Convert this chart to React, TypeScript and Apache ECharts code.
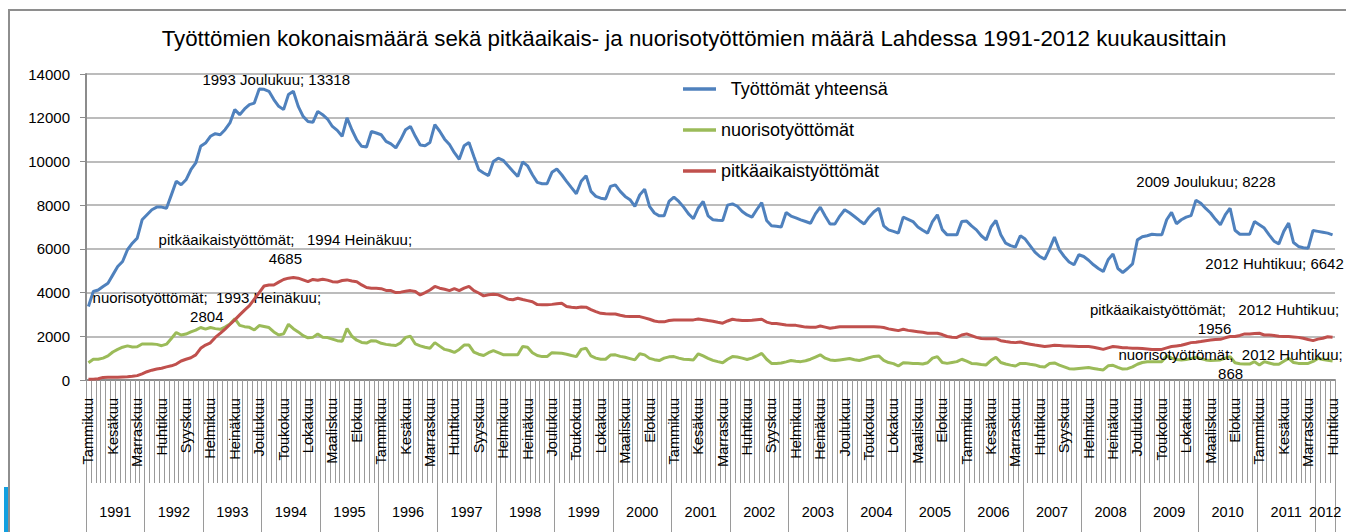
import React, { useEffect, useRef } from "react";
import * as echarts from "echarts";

const TITLE =
  "Työttömien kokonaismäärä sekä pitkäaikais- ja nuorisotyöttömien määrä Lahdessa 1991-2012 kuukausittain";

const MONTHS = [
  "Tammikuu", "Helmikuu", "Maaliskuu", "Huhtikuu", "Toukokuu", "Kesäkuu",
  "Heinäkuu", "Elokuu", "Syyskuu", "Lokakuu", "Marraskuu", "Joulukuu",
];
const YEARS = [
  1991, 1992, 1993, 1994, 1995, 1996, 1997, 1998, 1999, 2000, 2001,
  2002, 2003, 2004, 2005, 2006, 2007, 2008, 2009, 2010, 2011, 2012,
];
const MONTHS_IN_LAST_YEAR = 4;

const SERIES_NAMES = ["Työttömät yhteensä", "nuorisotyöttömät", "pitkäaikaistyöttömät"];

const TOTAL = [
  3360, 4050, 4120, 4280, 4430, 4810, 5190, 5420, 5960, 6260, 6490, 7330,
  7560, 7790, 7910, 7910, 7860, 8470, 9090, 8930, 9160, 9620, 9930, 10690,
  10840, 11150, 11270, 11220, 11450, 11760, 12370, 12140, 12400, 12600, 12670, 13318,
  13300, 13210, 12830, 12520, 12370, 13060, 13210, 12520, 12060, 11830, 11790, 12290,
  12140, 11940, 11600, 11420, 11150, 11990, 11450, 10990, 10690, 10660, 11370, 11300,
  11220, 10920, 10800, 10620, 11000, 11450, 11600, 11150, 10750, 10720, 10870, 11680,
  11380, 11020, 10770, 10400, 10100, 10720, 10870, 10230, 9620, 9470, 9350, 10000,
  10150, 10050, 9800, 9550, 9310, 9980, 9800, 9390, 9040, 8980, 8980, 9500,
  9650, 9390, 9090, 8800, 8520, 9090, 9350, 8630, 8400, 8320, 8280, 8860,
  8930, 8630, 8400, 8250, 7940, 8470, 8730, 7940, 7640, 7510, 7510, 8170,
  8370, 8170, 7910, 7600, 7380, 7870, 8170, 7510, 7330, 7310, 7300, 8000,
  8060, 7950, 7710, 7550, 7450, 7800, 8120, 7300, 7060, 7030, 7000, 7660,
  7500, 7420, 7330, 7250, 7170, 7600, 7910, 7500, 7140, 7140, 7500, 7790,
  7650, 7480, 7300, 7140, 7450, 7700, 7860, 7050, 6870, 6800, 6720, 7450,
  7350, 7250, 7000, 6850, 6720, 7250, 7560, 6880, 6640, 6640, 6640, 7250,
  7270, 7050, 6870, 6600, 6410, 7000, 7300, 6650, 6260, 6150, 6080, 6600,
  6450, 6150, 5850, 5650, 5530, 6000, 6540, 5950, 5650, 5400, 5270, 5730,
  5650, 5480, 5270, 5100, 4960, 5500, 5770, 5100, 4920, 5100, 5310, 6410,
  6550, 6600, 6670, 6650, 6640, 7330, 7670, 7150, 7330, 7450, 7520, 8228,
  8090, 7850, 7640, 7350, 7100, 7550, 7860, 6850, 6670, 6670, 6670, 7250,
  7100, 6950, 6640, 6350, 6230, 6800, 7180, 6290, 6110, 6050, 6030, 6840,
  6800, 6760, 6720, 6642,
];

const YOUTH = [
  790, 950, 950, 1000, 1100, 1280, 1400, 1500, 1560, 1510, 1520, 1650,
  1650, 1650, 1630, 1570, 1640, 1900, 2170, 2060, 2100, 2200, 2280, 2400,
  2330, 2400, 2350, 2320, 2420, 2560, 2804, 2500, 2440, 2410, 2290, 2490,
  2450, 2400, 2200, 2060, 2110, 2550, 2350, 2200, 2030, 1930, 1950, 2110,
  1960, 1940, 1870, 1800, 1770, 2360, 2000, 1820, 1720, 1690, 1800, 1780,
  1680, 1630, 1600, 1580, 1700, 1950, 2000, 1650, 1560, 1500, 1450, 1710,
  1550, 1400, 1350, 1260, 1400, 1600, 1600, 1280, 1180, 1120, 1250, 1340,
  1250, 1160, 1150, 1150, 1150, 1530, 1500, 1250, 1120, 1070, 1070, 1250,
  1240, 1220, 1180, 1120, 1070, 1400, 1450, 1100, 1000, 950, 950, 1140,
  1150, 1080, 1040, 980, 920, 1200, 1150, 990, 930, 890, 1000, 1060,
  1070, 1000, 950, 935, 920, 1200, 1100, 990, 900, 840, 790, 950,
  1070, 1050, 1000, 940, 1000, 1100, 1220, 950, 760, 760, 780, 830,
  890, 860, 840, 880, 950, 1050, 1150, 1000, 920, 890, 920, 950,
  980, 930, 890, 950, 1020, 1080, 1100, 900, 800, 750, 640, 790,
  780, 760, 750, 730, 790, 1000, 1070, 800, 760, 800, 840, 950,
  860, 760, 740, 710, 690, 900, 1040, 800, 730, 680, 640, 760,
  760, 720, 690, 620, 600, 750, 780, 680, 600, 520, 500, 530,
  550, 570, 530, 490, 460, 650, 670, 580, 500, 520, 600, 720,
  800, 830, 840, 840, 840, 1100, 1000, 940, 920, 940, 980, 1040,
  980, 920, 890, 900, 920, 1000, 1070, 790, 740, 730, 730, 840,
  690, 840, 780, 720, 720, 860, 990, 800, 760, 760, 760, 850,
  990, 940, 900, 868,
];

const LONG_TERM = [
  30, 40, 60, 120, 130, 130, 130, 140, 150, 170, 200, 280,
  380, 450, 500, 540, 600, 650, 730, 870, 950, 1020, 1150, 1450,
  1600, 1700, 1950, 2130, 2330, 2540, 2750, 2980, 3200, 3400, 3700, 4000,
  4300, 4350, 4350, 4480, 4600, 4660, 4685, 4660, 4580, 4500, 4600, 4560,
  4610, 4570, 4500, 4480, 4550, 4580, 4530, 4500, 4350, 4230, 4200, 4200,
  4180, 4100, 4090, 4000, 4020, 4060, 4090, 4050, 3890, 4000, 4120, 4280,
  4200, 4150, 4090, 4180, 4090, 4200, 4280, 4090, 3980, 3850, 3900, 3920,
  3900, 3800, 3700, 3670, 3740, 3680, 3630, 3580, 3450, 3440, 3440, 3460,
  3490, 3510, 3360, 3330, 3310, 3340, 3330, 3220, 3130, 3050, 3030, 3020,
  3020, 2960, 2920, 2900, 2900, 2900, 2840, 2780, 2700, 2660, 2660, 2720,
  2750, 2750, 2750, 2750, 2750, 2790, 2760, 2720, 2690, 2640, 2600, 2700,
  2780, 2740, 2720, 2720, 2730, 2760, 2780, 2650, 2590, 2580, 2550, 2520,
  2510, 2500, 2460, 2420, 2410, 2410, 2470, 2420, 2370, 2400, 2440, 2440,
  2440, 2440, 2440, 2440, 2440, 2440, 2430, 2400, 2340, 2300, 2260, 2320,
  2270, 2240, 2210, 2180, 2140, 2140, 2140, 2080, 1990, 1960, 1950, 2060,
  2110, 2030, 1950, 1900, 1890, 1890, 1890, 1800, 1760, 1730, 1710, 1740,
  1680, 1640, 1600, 1570, 1530, 1560, 1590, 1580, 1560, 1550, 1540, 1530,
  1530, 1530, 1500, 1450, 1400, 1470, 1530, 1510, 1480, 1470, 1450, 1450,
  1440, 1420, 1400, 1400, 1400, 1470, 1530, 1560, 1590, 1650, 1710, 1730,
  1760, 1800, 1830, 1850, 1860, 1930, 1990, 1990, 2040, 2110, 2110, 2130,
  2140, 2060, 2060, 2040, 2000, 1990, 1990, 1970, 1950, 1910, 1850, 1800,
  1870, 1910, 1980, 1956,
];

// Labelled points: [series index, category, include series name]
const LABELLED_POINTS: [number, string, boolean][] = [
  [0, "1993 Joulukuu", false],
  [0, "2009 Joulukuu", false],
  [0, "2012 Huhtikuu", false],
  [1, "1993 Heinäkuu", true],
  [1, "2012 Huhtikuu", true],
  [2, "1994 Heinäkuu", true],
  [2, "2012 Huhtikuu", true],
];

const CATEGORIES: string[] = [];
YEARS.forEach((y, yi) => {
  const n = yi === YEARS.length - 1 ? MONTHS_IN_LAST_YEAR : 12;
  for (let m = 0; m < n; m++) CATEGORIES.push(`${y} ${MONTHS[m]}`);
});

// ---- styling ----
const FONT = "'Liberation Sans', Arial, sans-serif";
const COLORS = ["#4F81BD", "#9BBB59", "#C0504D"];
const LABEL_STYLE: Record<string, { position: string; offset: number[]; gap: string }> = {
  "0|1993 Joulukuu": { position: "top", offset: [17, 5], gap: " " },
  "0|2009 Joulukuu": { position: "top", offset: [10, -4], gap: " " },
  "0|2012 Huhtikuu": { position: "bottom", offset: [-58, 14], gap: " " },
  "1|1993 Heinäkuu": { position: "top", offset: [-28, 12], gap: "  " },
  "1|2012 Huhtikuu": { position: "top", offset: [-102, 27], gap: "  " },
  "2|1994 Heinäkuu": { position: "top", offset: [-8, -5], gap: "   " },
  "2|2012 Huhtikuu": { position: "top", offset: [-118, 6], gap: "   " },
};

const SERIES_DATA = [TOTAL, YOUTH, LONG_TERM];

function buildSeriesData(si: number) {
  const values = SERIES_DATA[si];
  return values.map((v, i) => {
    const cat = CATEGORIES[i];
    const lp = LABELLED_POINTS.find((p) => p[0] === si && p[1] === cat);
    if (!lp) return v;
    const st = LABEL_STYLE[`${si}|${cat}`];
    const text = lp[2]
      ? `${SERIES_NAMES[si]};${st.gap}${cat};\n${v}`
      : `${cat}; ${v}`;
    return {
      value: v,
      label: {
        show: true,
        formatter: text,
        position: st.position,
        offset: st.offset,
        align: "center",
        fontSize: 15,
        lineHeight: 19,
        color: "#000",
        fontFamily: FONT,
      },
    };
  });
}

export default function App() {
  const ref = useRef<HTMLDivElement>(null);
  useEffect(() => {
    document.body.style.margin = "0";
    if (!ref.current) return;
    const chart = echarts.init(ref.current, undefined, { renderer: "svg" });
    const option: any = {
      animation: false,
      textStyle: { fontFamily: FONT },
      title: {
        text: TITLE,
        left: 694,
        top: 27,
        textAlign: "center",
        padding: 0,
        textStyle: { fontSize: 22.3, fontWeight: "normal", color: "#000", fontFamily: FONT },
      },
      legend: {
        orient: "vertical",
        left: 683,
        top: 79,
        padding: 0,
        itemWidth: 33,
        itemHeight: 3.5,
        itemGap: 21,
        icon: "rect",
        selectedMode: false,
        data: SERIES_NAMES,
        formatter: (n: string) => (n === SERIES_NAMES[0] ? "  " + n : n),
        textStyle: { fontSize: 18, lineHeight: 20, color: "#000", fontFamily: FONT },
      },
      grid: { left: 86, right: 11, top: 74, bottom: 152, containLabel: false, outerBoundsMode: "none" },
      xAxis: [
        {
          type: "category",
          data: CATEGORIES,
          boundaryGap: true,
          position: "bottom",
          axisLine: { show: true, lineStyle: { color: "#8c8c8c", width: 2 } },
          axisTick: { show: true, interval: 0, length: 103, lineStyle: { color: "#9a9a9a", width: 1 } },
          axisLabel: {
            interval: 4,
            rotate: 90,
            margin: 18,
            fontSize: 14.6,
            color: "#000",
            fontFamily: FONT,
            formatter: (v: string) => v.split(" ")[1],
          },
          splitLine: { show: false },
        },
        {
          type: "category",
          data: CATEGORIES,
          boundaryGap: true,
          position: "bottom",
          offset: 103,
          axisLine: { show: false },
          axisTick: {
            show: true,
            interval: (i: number) => i % 12 === 0,
            length: 52,
            lineStyle: { color: "#9a9a9a", width: 1 },
          },
          axisLabel: {
            interval: (i: number) => (i < 252 ? i % 12 === 6 : i === 254),
            margin: 21,
            color: "#000",
            fontFamily: FONT,
            formatter: (v: string) => `{y|${v.split(" ")[0]}}`,
            rich: { y: { fontSize: 14.5, color: "#000", fontFamily: FONT, padding: [0, 4.88, 0, 0] } },
          },
          splitLine: { show: false },
        },
      ],
      yAxis: {
        type: "value",
        min: 0,
        max: 14000,
        interval: 2000,
        axisLine: { show: true, lineStyle: { color: "#8c8c8c", width: 2 } },
        axisTick: { show: true, length: 6, lineStyle: { color: "#8c8c8c" } },
        axisLabel: {
          margin: 16,
          fontSize: 15,
          color: "#000",
          fontFamily: FONT,
          formatter: (v: number) => String(v),
        },
        splitLine: { lineStyle: { color: "#a6a6a6", width: 1.5 } },
      },
      series: SERIES_NAMES.map((name, si) => ({
        name,
        type: "line",
        xAxisIndex: 0,
        data: buildSeriesData(si),
        symbol: "circle",
        symbolSize: 0,
        showSymbol: true,
        showAllSymbol: true,
        lineStyle: { color: COLORS[si], width: 3 },
        itemStyle: { color: COLORS[si] },
        label: { show: false },
        emphasis: { disabled: true },
        z: 3 + si,
      })),
      graphic: [
        {
          type: "rect",
          shape: { x: 9, y: 10, width: 1400, height: 600 },
          style: { fill: "none", stroke: "#8e8e8e", lineWidth: 2 },
          silent: true,
        },
        {
          type: "rect",
          shape: { x: 4, y: 487, width: 4, height: 60 },
          style: { fill: "#12a0e0" },
          silent: true,
        },
      ],
    };
    chart.setOption(option);
    return () => chart.dispose();
  }, []);
  return <div ref={ref} style={{ width: 1346, height: 532 }} />;
}
